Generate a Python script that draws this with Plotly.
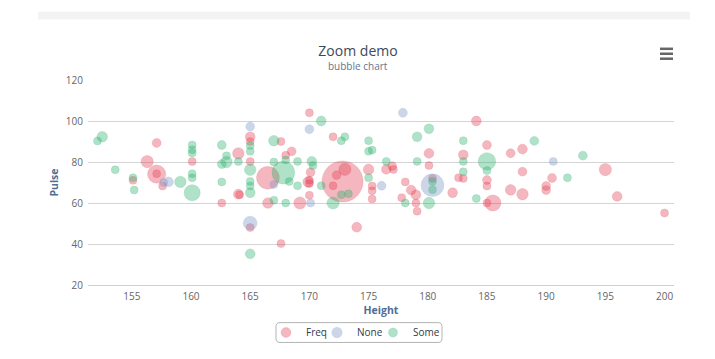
import plotly.graph_objects as go
import numpy as np

# ---- data: (height cm, pulse bpm, age yrs) per exercise group ----
freq_height = [157.1, 155.1, 156.3, 157.1, 157.1, 157.6, 160.1, 162.6, 164.0, 164.0, 164.1, 165.0, 165.0, 165.0,
               165.0, 166.5, 167.6, 168.0, 168.5, 166.5, 167.6, 169.2, 170.0, 170.1, 170.0, 170.0, 169.9, 170.0,
               172.0, 172.8, 173.0, 172.3, 172.0, 174.0, 175.0, 175.3, 175.3, 175.3, 176.5, 177.0, 177.1, 178.1,
               177.8, 178.6, 179.0, 179.0, 179.1, 180.1, 180.1, 180.4, 182.1, 183.0, 182.6, 183.0, 184.1, 185.0,
               185.0, 185.0, 185.5, 185.0, 187.0, 188.0, 188.0, 187.0, 188.0, 190.5, 190.0, 190.0, 195.0, 196.0,
               200.0]
freq_pulse = [89.3, 71.1, 80.2, 74.1, 74.3, 68.3, 80.2, 60.0, 84.2, 64.3, 64.0, 92.3, 90.0, 80.2,
              48.0, 72.3, 90.0, 83.3, 85.2, 60.0, 40.2, 60.0, 104.0, 75.0, 71.1, 69.5, 70.3, 63.8,
              92.3, 70.5, 76.4, 73.6, 68.4, 48.2, 76.4, 68.3, 66.0, 62.0, 76.4, 78.0, 76.4, 70.3,
              62.6, 66.3, 64.0, 60.0, 56.0, 84.2, 78.3, 72.0, 65.0, 83.5, 72.3, 72.0, 100.0, 88.3,
              71.2, 68.3, 60.0, 60.0, 84.3, 86.3, 75.3, 66.4, 64.3, 72.2, 68.3, 66.3, 76.3, 63.2,
              55.1]
freq_age = [19, 18, 23, 31, 18, 18, 18, 18, 22, 20, 18, 20, 18, 18,
            18, 38, 18, 18, 19, 21, 18, 23, 18, 19, 18, 18, 21, 18,
            18, 73, 23, 19, 18, 20, 21, 18, 18, 18, 20, 19, 18, 18,
            18, 20, 20, 18, 18, 20, 18, 18, 20, 20, 18, 18, 20, 19,
            19, 18, 28, 18, 19, 20, 19, 21, 22, 19, 19, 19, 23, 20,
            18]

none_height = [157.7, 158.1, 165.0, 165.0, 167.0, 170.0, 170.1, 176.1, 177.9, 180.4, 190.6]
none_pulse = [70.0, 70.3, 97.3, 50.2, 69.0, 96.0, 60.0, 68.4, 104.0, 68.7, 80.3]
none_age = [18, 20, 19, 25, 18, 19, 18, 19, 19, 38, 18]

some_height = [152.1, 152.5, 153.6, 155.1, 155.2, 159.1, 160.1, 160.1, 160.1, 160.1, 160.1, 160.1, 162.6, 162.6,
               163.0, 163.0, 162.6, 164.0, 165.0, 165.0, 165.0, 165.0, 165.0, 165.0, 165.0, 167.8, 167.0, 168.0,
               167.0, 167.0, 168.0, 169.0, 169.0, 171.0, 170.2, 170.3, 171.0, 172.7, 173.0, 172.7, 173.3, 172.0,
               175.0, 175.0, 175.3, 175.0, 176.5, 178.1, 179.1, 180.1, 179.1, 180.1, 180.4, 180.4, 183.0, 183.0,
               183.0, 184.1, 185.0, 185.0, 189.0, 191.8, 193.1, 168.3]
some_pulse = [90.3, 92.3, 76.2, 72.3, 66.3, 70.3, 65.0, 88.3, 86.0, 84.4, 74.3, 72.3, 88.3, 79.0,
              80.0, 83.0, 70.3, 80.2, 88.0, 85.2, 76.2, 70.5, 68.3, 65.0, 35.2, 74.8, 90.4, 81.0,
              80.0, 61.4, 60.0, 80.3, 68.4, 100.0, 80.3, 78.3, 68.4, 90.4, 92.3, 64.0, 64.5, 60.0,
              90.4, 85.2, 85.8, 72.3, 80.3, 60.0, 92.3, 96.2, 80.3, 60.0, 70.5, 66.5, 90.4, 80.3,
              75.2, 62.2, 80.3, 75.8, 90.3, 72.3, 83.1, 70.5]
some_age = [18, 21, 18, 18, 18, 22, 28, 18, 18, 18, 18, 18, 19, 19,
            22, 18, 18, 18, 18, 18, 22, 18, 18, 20, 20, 38, 21, 18,
            18, 18, 18, 18, 18, 20, 20, 18, 18, 18, 18, 18, 18, 23,
            18, 18, 18, 18, 18, 18, 20, 20, 18, 22, 18, 18, 18, 18,
            18, 18, 30, 18, 19, 18, 19, 18]

series_names = ["Freq", "None", "Some"]
x_ticks = [155, 160, 165, 170, 175, 180, 185, 190, 195, 200]
y_ticks = [20, 40, 60, 80, 100, 120]

# ---- bubble size scale (area-based, like Highcharts min/max size) ----
all_age = np.array(freq_age + none_age + some_age, dtype=float)
zmin, zmax = all_age.min(), all_age.max()
MIN_D, MAX_D = 8.0, 41.0


def diam(ages):
    a = np.sqrt(np.array(ages, dtype=float))
    pos = (a - np.sqrt(zmin)) / (np.sqrt(zmax) - np.sqrt(zmin))
    return MIN_D + pos * (MAX_D - MIN_D)


colors = {
    "Freq": "rgba(228, 60, 80, 0.52)",
    "None": "rgba(118, 146, 194, 0.52)",
    "Some": "rgba(38, 176, 106, 0.52)",
}
lines = {
    "Freq": "rgba(228, 60, 80, 0.25)",
    "None": "rgba(118, 146, 194, 0.25)",
    "Some": "rgba(38, 176, 106, 0.25)",
}

# page has an 8px body margin: work in reference-pixel coordinates and shift
OFF = 8
W, H = 715 - OFF, 359 - OFF
L, T = 88 - OFF, 80 - OFF
R = W - (674 - OFF)
B = H - (287 - OFF)
pw, ph = W - L - R, H - T - B


def px(xp):
    return (xp - OFF - L) / pw


def py(yp):
    return (H - B - (yp - OFF)) / ph


legend_ids = {"Freq": "legend", "None": "legend2", "Some": "legend3"}
legend_left = {"Freq": 266, "None": 317, "Some": 373}

fig = go.Figure()
for name, xs, ys, zs in [("Freq", freq_height, freq_pulse, freq_age),
                         ("None", none_height, none_pulse, none_age),
                         ("Some", some_height, some_pulse, some_age)]:
    fig.add_trace(go.Scatter(
        x=xs, y=ys, mode="markers", name=name, legend=legend_ids[name],
        marker=dict(size=diam(zs), sizemode="diameter", color=colors[name],
                    line=dict(color=lines[name], width=1)),
        customdata=zs,
        hovertemplate="Height %{x}<br>Pulse %{y}<br>Age %{customdata}<extra>" + name + "</extra>",
    ))

font_family = "Open Sans, DejaVu Sans, sans-serif"

# rounded legend frame
x0, x1, y0, y1, r = 276, 442, 325, 345, 4
def P(x, y):
    return f"{px(x):.5f},{py(y):.5f}"
frame = (f"M {P(x0 + r, y0)} L {P(x1 - r, y0)} Q {P(x1, y0)} {P(x1, y0 + r)} "
         f"L {P(x1, y1 - r)} Q {P(x1, y1)} {P(x1 - r, y1)} L {P(x0 + r, y1)} "
         f"Q {P(x0, y1)} {P(x0, y1 - r)} L {P(x0, y0 + r)} Q {P(x0, y0)} {P(x0 + r, y0)} Z")

shapes = [
    dict(type="rect", xref="paper", yref="paper", x0=px(38), x1=px(690), y0=py(19), y1=py(11),
         fillcolor="rgb(243,243,243)", line=dict(width=0), layer="below"),
    dict(type="path", xref="paper", yref="paper", path=frame, line=dict(color="#b4b4b4", width=1),
         fillcolor="rgba(0,0,0,0)", layer="below"),
]
for yy in (48.5, 53.5, 58.5):
    shapes.append(dict(type="line", xref="paper", yref="paper", x0=px(660), x1=px(673), y0=py(yy), y1=py(yy),
                       line=dict(color="#666666", width=2.5)))

legend_common = dict(orientation="h", xanchor="left", y=py(335), yanchor="middle",
                     borderwidth=0, bgcolor="rgba(0,0,0,0)",
                     font=dict(size=10, color="#333a4d"), itemsizing="trace", itemwidth=30)

fig.update_layout(
    width=W, height=H,
    margin=dict(l=L, r=R, t=T, b=B),
    paper_bgcolor="white", plot_bgcolor="white",
    font=dict(family=font_family, size=10, color="#666666"),
    title=dict(text="Zoom demo", x=px(358), xref="paper", xanchor="center",
               y=1 - (51 - OFF) / H, yref="container", yanchor="middle",
               font=dict(size=14, color="#3d4859", family=font_family)),
    annotations=[dict(text="bubble chart", xref="paper", yref="paper", x=px(358), y=py(66),
                      xanchor="center", yanchor="middle", showarrow=False,
                      font=dict(size=10, color="#66758f", family=font_family))],
    showlegend=True,
    legend=dict(x=px(legend_left["Freq"]), **legend_common),
    legend2=dict(x=px(legend_left["None"]), **legend_common),
    legend3=dict(x=px(legend_left["Some"]), **legend_common),
    shapes=shapes,
)
fig.update_xaxes(range=[151.3, 200.8], tickvals=x_ticks, showgrid=False, zeroline=False,
                 showline=True, linecolor="#c8d0dc", linewidth=1, ticks="",
                 title=dict(text="<b>Height</b>", font=dict(size=10.5, color="#4d6e96"), standoff=4),
                 tickfont=dict(size=10, color="#666666"), ticklabelstandoff=2)
fig.update_yaxes(range=[20, 120], tickvals=y_ticks, showgrid=True, gridcolor="#d4d4d4", gridwidth=1,
                 zeroline=False, showline=False, ticks="",
                 title=dict(text="<b>Pulse</b>", font=dict(size=10.5, color="#4d6e96"), standoff=5),
                 tickfont=dict(size=10, color="#666666"), ticklabelstandoff=4)

fig.write_html("out.html")
